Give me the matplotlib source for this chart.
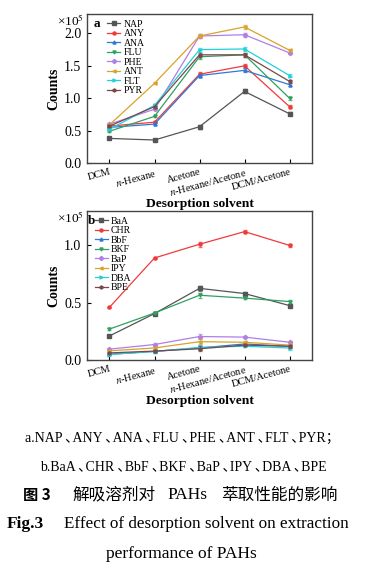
import numpy as np
import matplotlib.pyplot as plt

plt.rcParams['font.family'] = ['Liberation Serif', 'Noto Sans CJK SC']
plt.rcParams['mathtext.fontset'] = 'stix'

solvents = ["DCM", "$n$-Hexane", "Acetone", "$n$-Hexane/Acetone", "DCM/Acetone"]

# panel a, counts in units of 1e5
names_a = ["NAP", "ANY", "ANA", "FLU", "PHE", "ANT", "FLT", "PYR"]
NAP = [0.38, 0.355, 0.56, 1.105, 0.76]
ANY = [0.57, 0.63, 1.37, 1.50, 0.87]
ANA = [0.55, 0.60, 1.35, 1.43, 1.21]
FLU = [0.49, 0.72, 1.64, 1.67, 1.00]
PHE = [0.60, 0.83, 1.96, 1.98, 1.70]
ANT = [0.59, 1.23, 1.96, 2.10, 1.74]
FLT = [0.52, 0.89, 1.75, 1.76, 1.35]
PYR = [0.57, 0.87, 1.67, 1.67, 1.26]
err_a = [0.01, 0.015, 0.03, 0.03, 0.02]

# panel b, counts in units of 1e5
names_b = ["BaA", "CHR", "BbF", "BKF", "BaP", "IPY", "DBA", "BPE"]
BaA = [0.21, 0.405, 0.625, 0.58, 0.475]
CHR = [0.46, 0.89, 1.01, 1.12, 1.00]
BbF = [0.05, 0.075, 0.105, 0.14, 0.12]
BKF = [0.27, 0.41, 0.565, 0.54, 0.51]
BaP = [0.095, 0.135, 0.205, 0.20, 0.155]
IPY = [0.08, 0.105, 0.16, 0.155, 0.13]
DBA = [0.048, 0.075, 0.11, 0.12, 0.105]
BPE = [0.062, 0.078, 0.098, 0.13, 0.12]
err_b = [0.005, 0.01, 0.02, 0.01, 0.015]

colors = ["#555555", "#f03a3a", "#2f78d6", "#2fa060", "#b07ee8", "#d9a22a", "#22d0dc", "#7a4848"]
markers = ["s", "o", "^", "v", "D", "<", ">", "h"]
cjk = ["Noto Sans CJK SC", "DejaVu Sans"]


def draw_panel(ax, names, series, err, ylim, yticks, letter, leg_x, let_x):
    x = np.arange(len(solvents))
    for i, (nm, ys) in enumerate(zip(names, series)):
        ax.errorbar(x, ys, yerr=err, fmt="none", ecolor=colors[i], elinewidth=0.6,
                    capsize=1.5, alpha=0.7)
        ax.plot(x, ys, color=colors[i], marker=markers[i], ms=2.2, lw=0.9, label=nm)
    ax.set_xlim(-0.5, 4.5)
    ax.set_ylim(*ylim)
    ax.set_yticks(yticks)
    ax.set_yticklabels(["%.1f" % t for t in yticks], fontsize=10)
    ax.set_xticks(x)
    ax.set_xticklabels(solvents, fontsize=7.5, rotation=15, ha="right",
                       rotation_mode="anchor")
    ax.tick_params(direction="in", length=3, width=0.8)
    ax.tick_params(axis="y", pad=4)
    ax.tick_params(axis="x", pad=3)
    for s in ax.spines.values():
        s.set_color("#444444")
        s.set_linewidth(1.0)
    ax.set_ylabel("Counts", fontsize=10, fontweight="bold", labelpad=3)
    ax.set_xlabel("Desorption solvent", fontsize=9.7, fontweight="bold", labelpad=0)
    ax.text(-0.135, 1.005, "×10$^5$", transform=ax.transAxes, fontsize=9.5,
            ha="left", va="top")
    ax.legend(loc="upper left", bbox_to_anchor=(leg_x, 1.0), fontsize=7,
              frameon=False, handlelength=1.3, handletextpad=0.35,
              labelspacing=0.05, borderaxespad=0.2)
    ax.text(let_x, 0.975, letter, transform=ax.transAxes, fontsize=9.5,
            fontweight="bold", ha="left", va="top")


fig = plt.figure(figsize=(3.66, 5.71), dpi=100)
ax1 = fig.add_axes([0.2377, 0.7145, 0.6148, 0.261])
ax2 = fig.add_axes([0.2377, 0.3695, 0.6148, 0.261])

draw_panel(ax1, names_a, [NAP, ANY, ANA, FLU, PHE, ANT, FLT, PYR], err_a,
           (0, 2.3), [0.0, 0.5, 1.0, 1.5, 2.0], "a", 0.065, 0.03)
draw_panel(ax2, names_b, [BaA, CHR, BbF, BKF, BaP, IPY, DBA, BPE], err_b,
           (0, 1.3), [0.0, 0.5, 1.0], "b", 0.01, 0.005)

fig.text(25 / 366, 1 - 438 / 571, "a.NAP ､ANY ､ANA ､FLU ､PHE ､ANT ､FLT ､PYR；",
         ha="left", va="center", fontsize=10)
fig.text(0.5, 1 - 467 / 571, "b.BaA ､CHR ､BbF ､BKF ､BaP ､IPY ､DBA ､BPE",
         ha="center", va="center", fontsize=10)
yt = 1 - 495 / 571
fig.text(23 / 366, yt, "图 3", ha="left", va="center", fontsize=11,
         fontweight="bold", family=cjk)
fig.text(72 / 366, yt, "解吸溶剂对", ha="left", va="center", fontsize=12,
         family=cjk)
fig.text(187 / 366, yt, "PAHs", ha="center", va="center", fontsize=12.5)
fig.text(337 / 366, yt, "萃取性能的影响", ha="right", va="center", fontsize=12,
         family=cjk)
fig.text(7 / 366, 1 - 524 / 571, "Fig.3", ha="left", va="center", fontsize=12.5,
         fontweight="bold")
fig.text(64 / 366, 1 - 524 / 571, "Effect of desorption solvent on extraction",
         ha="left", va="center", fontsize=12.3)
fig.text(0.495, 1 - 554 / 571, "performance of PAHs", ha="center", va="center",
         fontsize=12.5)

fig.savefig("out.png", dpi=100)
